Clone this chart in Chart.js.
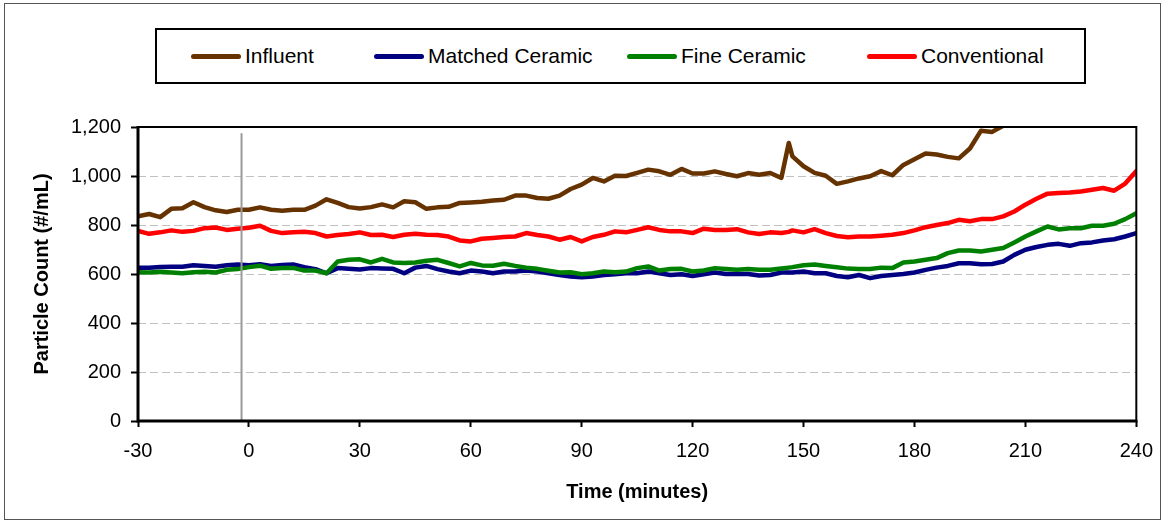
<!DOCTYPE html>
<html>
<head>
<meta charset="utf-8">
<script src="https://cdn.jsdelivr.net/npm/chart.js@4.4.1/dist/chart.umd.min.js"></script>
<style>
  html, body { margin: 0; padding: 0; background: #fff; }
  #wrap { position: relative; width: 1165px; height: 523px; }
  #c { position: absolute; left: 0; top: 0; }
  #frame { position: absolute; left: 4px; top: 3px; width: 1157px; height: 517px;
           border: 1px solid #555; box-sizing: border-box; pointer-events: none; }
  #legend { position: absolute; left: 155px; top: 28px; width: 931px; height: 56px;
            border: 2px solid #000; box-sizing: border-box; background: #fff;
            font: 21px "Liberation Sans", Arial, sans-serif; color: #000; }
  .item { position: absolute; top: 0; height: 52px; display: flex; align-items: center; white-space: nowrap; }
  .swatch { display: inline-block; width: 50px; height: 5px; border-radius: 3px; margin-right: 4px; }
</style>
</head>
<body>
<div id="wrap">
  <canvas id="c" width="1165" height="523"></canvas>
  <div id="legend"></div>
  <div id="frame"></div>
</div>
<script>
// Sampling times (minutes relative to the start of the run)
const minutes = [
  -30, -27, -24, -21, -18, -15, -12, -9, -6, -3,
  0, 3, 6, 9, 12, 15, 18, 21, 24, 27,
  30, 33, 36, 39, 42, 45, 48, 51, 54, 57,
  60, 63, 66, 69, 72, 75, 78, 81, 84, 87,
  90, 93, 96, 99, 102, 105, 108, 111, 114, 117,
  120, 123, 126, 129, 132, 135, 138, 141, 144, 146,
  147, 150, 153, 156, 159, 162, 165, 168, 171, 174,
  177, 180, 183, 186, 189, 192, 195, 198, 201, 204,
  207, 210, 213, 216, 219, 222, 225, 228, 231, 234,
  237, 240
];

// Particle counts (#/mL)
const influent = [
  835, 845, 832, 866, 868, 893, 873, 860, 853, 862,
  862, 872, 862, 858, 862, 862, 879, 905, 890, 873,
  867, 873, 884, 872, 897, 893, 866, 872, 874, 890,
  892, 895, 900, 903, 920, 920, 910, 907, 920, 947,
  965, 992, 978, 1001, 1000, 1013, 1026, 1019, 1005, 1029,
  1010, 1010, 1019, 1008, 999, 1012, 1005, 1012, 992, 1135,
  1080, 1040, 1013, 1001, 968, 978, 990, 999, 1020, 1003,
  1045, 1068, 1092, 1088, 1078, 1072, 1112, 1185, 1180, 1205,
  1250, null, null, null, null, null, null, null, null, null,
  null, null
];

const matchedCeramic = [
  626, 626, 629, 630, 630, 636, 633, 630, 636, 639,
  636, 640, 633, 637, 639, 628, 620, 603, 624, 621,
  618, 624, 622, 621, 603, 626, 633, 620, 610, 603,
  614, 610, 603, 610, 610, 614, 610, 603, 596, 590,
  587, 590, 596, 599, 603, 603, 610, 603, 596, 599,
  592, 599, 606, 600, 600, 600, 594, 596, 606, 606,
  606, 610, 603, 603, 592, 587, 596, 583, 592, 596,
  600, 606, 617, 626, 633, 644, 644, 640, 641, 651,
  678, 699, 710, 719, 723, 715, 726, 729, 737, 742,
  753, 767
];

const fineCeramic = [
  607, 606, 609, 606, 603, 607, 609, 606, 617, 620,
  628, 634, 621, 624, 625, 614, 614, 603, 651, 658,
  660, 647, 662, 647, 645, 647, 654, 658, 645, 631,
  645, 635, 634, 642, 633, 626, 621, 613, 606, 607,
  599, 603, 610, 607, 610, 624, 631, 614, 620, 621,
  610, 614, 624, 620, 617, 620, 617, 617, 622, 626,
  628, 636, 639, 633, 628, 622, 620, 620, 626, 624,
  647, 651, 658, 665, 685, 696, 696, 692, 699, 706,
  729, 753, 774, 794, 782, 787, 787, 797, 797, 805,
  824, 848
];

const conventional = [
  776, 764, 770, 778, 772, 776, 787, 790, 780, 785,
  789, 797, 776, 767, 770, 772, 767, 753, 759, 763,
  770, 759, 760, 751, 760, 764, 760, 759, 753, 737,
  733, 744, 747, 751, 753, 767, 759, 753, 740, 751,
  733, 751, 760, 774, 770, 780, 791, 780, 774, 774,
  767, 785, 780, 780, 783, 770, 763, 770, 767, 772,
  778, 770, 783, 767, 755, 750, 753, 753, 756, 760,
  767, 778, 791, 800, 808, 821, 815, 824, 824, 835,
  855, 883, 907, 928, 931, 933, 937, 944, 951, 940,
  969, 1020
];

// Start-of-run marker
const markerMinutes = [-2, -2];
const markerCounts = [0, 1175];

// Axis ticks
const xTicks = [-30, 0, 30, 60, 90, 120, 150, 180, 210, 240];
const yTicks = [0, 200, 400, 600, 800, 1000, 1200];

const seriesNames = ['Influent', 'Matched Ceramic', 'Fine Ceramic', 'Conventional'];
const seriesValues = [influent, matchedCeramic, fineCeramic, conventional];
const seriesColors = ['#663300', '#000080', '#008000', '#ff0000'];

const FONT = '"Liberation Sans", Arial, sans-serif';
Chart.defaults.font.family = FONT;
Chart.defaults.font.size = 20;
Chart.defaults.color = '#000';

const toPoints = (xs, ys) => xs.map((x, i) => ({ x: x, y: ys[i] }));

const datasets = seriesNames.map((name, i) => ({
  label: name,
  data: toPoints(minutes, seriesValues[i]),
  borderColor: seriesColors[i],
  backgroundColor: seriesColors[i],
  borderWidth: 4.5,
  pointRadius: 0,
  tension: 0,
  spanGaps: false,
  borderCapStyle: 'round',
  borderJoinStyle: 'round',
  order: seriesNames.length - i + 1
}));

datasets.push({
  label: 'start',
  data: toPoints(markerMinutes, markerCounts),
  borderColor: '#9a9a9a',
  borderWidth: 2,
  pointRadius: 0,
  order: 0
});

// Plot-area frame, drawn over the grid
const plotFrame = {
  id: 'plotFrame',
  afterDraw(chart) {
    const { ctx, chartArea: a } = chart;
    ctx.save();
    ctx.strokeStyle = '#000';
    ctx.lineWidth = 2;
    ctx.strokeRect(a.left, a.top, a.right - a.left, a.bottom - a.top);
    ctx.lineWidth = 3;
    ctx.beginPath();
    ctx.moveTo(a.left, a.top - 1);
    ctx.lineTo(a.left, a.bottom);
    ctx.lineTo(a.right + 1, a.bottom);
    ctx.stroke();
    ctx.restore();
  }
};

const PAD = { left: 20, top: 127, right: 26, bottom: 19 };

new Chart(document.getElementById('c'), {
  type: 'line',
  data: { datasets: datasets },
  plugins: [plotFrame],
  options: {
    responsive: false,
    animation: false,
    layout: { padding: PAD },
    plugins: { legend: { display: false }, tooltip: { enabled: false } },
    scales: {
      x: {
        type: 'linear',
        min: -30,
        max: 240,
        afterBuildTicks: s => { s.ticks = xTicks.map(v => ({ value: v })); },
        afterFit: s => { s.height = 523 - PAD.bottom - 421; },
        border: { display: false },
        grid: { drawOnChartArea: false, drawTicks: true, tickLength: 6, tickColor: '#000', tickWidth: 2 },
        ticks: { padding: 12, font: { size: 20 }, color: '#000', maxRotation: 0,
                 callback: v => String(v) },
        title: { display: true, text: 'Time (minutes)', font: { size: 20, weight: 'bold' },
                 color: '#000', padding: { top: 0, bottom: 0 } }
      },
      y: {
        type: 'linear',
        min: 0,
        max: 1200,
        afterBuildTicks: s => { s.ticks = yTicks.map(v => ({ value: v })); },
        afterFit: s => { s.width = 138 - PAD.left; },
        border: { display: false, dash: [8, 4] },
        grid: { color: '#c0c0c0', lineWidth: 1, drawTicks: true, tickLength: 7,
                tickColor: '#000', tickWidth: 2, tickBorderDash: [] },
        ticks: { padding: 10, font: { size: 20 }, color: '#000',
                 callback: v => v.toLocaleString('en-US') },
        title: { display: true, text: 'Particle Count (#/mL)', font: { size: 20, weight: 'bold' },
                 color: '#000', padding: { top: 10, bottom: 0 } }
      }
    }
  }
});

// Legend row inside its bordered box
const legendOffsets = [34, 217, 470, 710];
const legendEl = document.getElementById('legend');
seriesNames.forEach((name, i) => {
  const item = document.createElement('div');
  item.className = 'item';
  item.style.left = legendOffsets[i] + 'px';
  const sw = document.createElement('span');
  sw.className = 'swatch';
  sw.style.background = seriesColors[i];
  const tx = document.createElement('span');
  tx.textContent = name;
  item.appendChild(sw);
  item.appendChild(tx);
  legendEl.appendChild(item);
});
</script>
</body>
</html>
